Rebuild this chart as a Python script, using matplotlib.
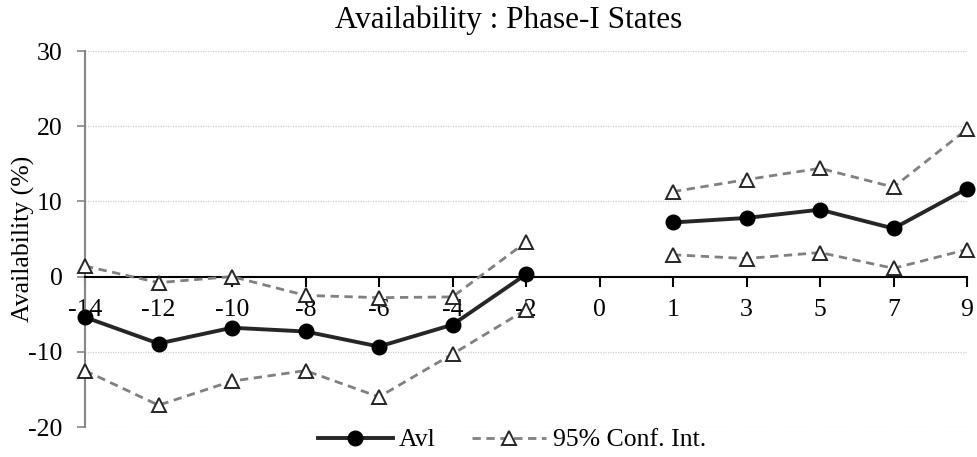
import matplotlib
matplotlib.use("Agg")
import matplotlib.pyplot as plt
import numpy as np

categories = ["-14", "-12", "-10", "-8", "-6", "-4", "-2", "0", "1", "3", "5", "7", "9"]
avl = [-5.4, -8.9, -6.8, -7.3, -9.3, -6.4, 0.3, np.nan, 7.2, 7.8, 8.9, 6.4, 11.7]
ci_upper = [1.4, -0.8, 0.0, -2.5, -2.8, -2.7, 4.6, np.nan, 11.3, 12.9, 14.4, 11.9, 19.6]
ci_lower = [-12.5, -17.1, -13.9, -12.5, -16.0, -10.3, -4.4, np.nan, 2.9, 2.4, 3.2, 1.1, 3.6]
yticks = [-20, -10, 0, 10, 20, 30]

plt.rcParams['font.family'] = ['Liberation Serif', 'DejaVu Serif']
FS = 18.5
FS_TITLE = 22.5

fig = plt.figure(figsize=(9.77, 4.57), dpi=100)
ax = fig.add_axes([85/977, 1-427/457, (967-85)/977, (427-51)/457])

x = np.arange(len(categories))

ax.plot(x, ci_upper, color='#808080', lw=2.0, ls=(0, (3, 2)), marker='^', ms=10,
        mfc='white', mec='#262626', mew=1.4, clip_on=False, zorder=3, label='95% Conf. Int.')
ax.plot(x, ci_lower, color='#808080', lw=2.0, ls=(0, (3, 2)), marker='^', ms=10,
        mfc='white', mec='#262626', mew=1.4, clip_on=False, zorder=3)
ax.plot(x, avl, color='#262626', lw=2.8, marker='o', ms=10.5, mfc='black', mec='black',
        clip_on=False, zorder=4, label='Avl')

ax.spines['top'].set_visible(False)
ax.spines['right'].set_visible(False)
ax.spines['bottom'].set_position(('data', 0))
ax.spines['bottom'].set_color('black')
ax.spines['bottom'].set_linewidth(1.5)
ax.spines['left'].set_color('#868686')
ax.spines['left'].set_linewidth(1.5)

ax.set_xlim(0, len(categories)-1)
ax.set_ylim(-20, 30)
ax.set_yticks(yticks)
ax.set_yticklabels([str(v) for v in yticks])
ax.set_xticks(x)
ax.set_xticklabels(categories)

ax.tick_params(axis='x', direction='out', length=7, width=1.5, color='black', pad=9,
               labelsize=FS)
ax.tick_params(axis='y', direction='out', length=6, width=1.2, color='#868686', pad=10,
               labelsize=FS)

for v in yticks:
    if v != 0:
        ax.axhline(v, color='#cccccc', lw=0.9, ls=(0, (1, 1)), zorder=0)

ax.set_ylabel('Availability (%)', fontsize=FS)
ax.yaxis.set_label_coords(-0.057, 0.5)

fig.text(509/977, 1-28/457, 'Availability : Phase-I States', fontsize=FS_TITLE,
         ha='center', va='baseline')

h, l = ax.get_legend_handles_labels()
fig.legend([h[1], h[0]], [l[1], l[0]], loc='center', bbox_to_anchor=(512/977, 1-440/457),
           ncol=2, frameon=False, fontsize=FS, handlelength=2.9, handletextpad=0.25,
           columnspacing=1.4, borderpad=0)

fig.savefig('out.png', dpi=100)
